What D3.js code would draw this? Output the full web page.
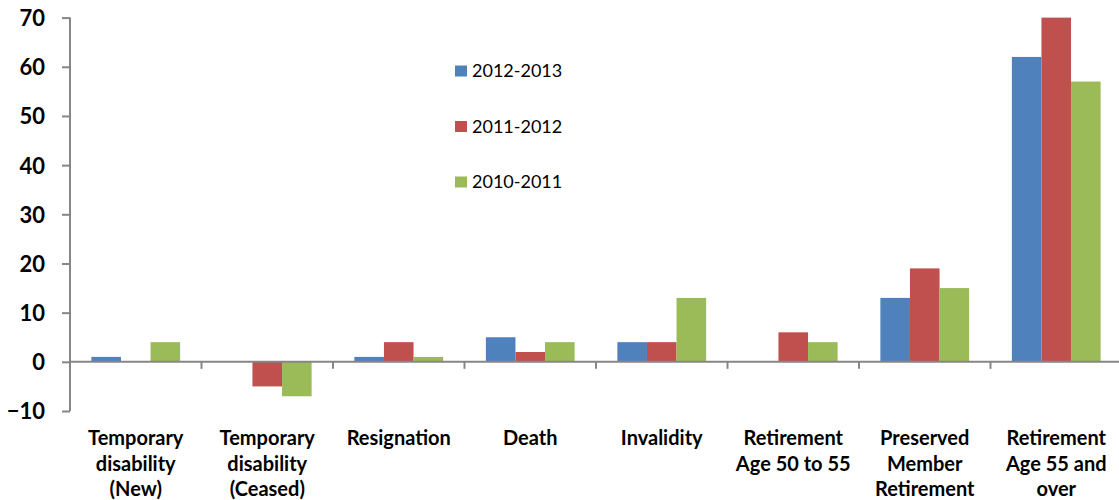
<!DOCTYPE html>
<html><head><meta charset="utf-8">
<script src="https://cdn.jsdelivr.net/npm/d3@7"></script>
<style>body{margin:0;background:#fff;}svg{display:block;}</style>
</head><body>
<svg id="c" width="1119" height="500"></svg>
<script>
const categories = [
  ["Temporary","disability","(New)"],
  ["Temporary","disability","(Ceased)"],
  ["Resignation"],
  ["Death"],
  ["Invalidity"],
  ["Retirement","Age 50 to 55"],
  ["Preserved","Member","Retirement"],
  ["Retirement","Age 55 and","over"]
];
const seriesNames = ["2012-2013","2011-2012","2010-2011"];
const s2012_2013 = [1, 0, 1, 5, 4, 0, 13, 62];
const s2011_2012 = [0, -5, 4, 2, 4, 6, 19, 70];
const s2010_2011 = [4, -7, 1, 4, 13, 4, 15, 57];
const seriesValues = [s2012_2013, s2011_2012, s2010_2011];
const colors = ["#4F81BD","#C0504D","#9BBB59"];
const yTicks = [-10,0,10,20,30,40,50,60,70];

const svg = d3.select("#c");
const catKeys = categories.map((c,i)=>i);
const x = d3.scaleBand().domain(catKeys).range([70,1122]).padding(0);
const y = d3.scaleLinear().domain([-10,70]).range([411,17.6]);
const bw = x.bandwidth();
const barW = bw*0.225;
const off = (bw-3*barW)/2;
const xs = d3.scaleBand().domain(seriesNames).range([off, off+3*barW]).padding(0);

const font = "Lato, 'Open Sans', sans-serif";
const axisColor = "#868686";

// bars
seriesNames.forEach((s,si)=>{
  svg.append("g").selectAll("rect").data(seriesValues[si]).join("rect")
    .attr("x",(d,i)=>x(i)+xs(s))
    .attr("width",xs.bandwidth())
    .attr("y",d=>y(Math.max(0,d)))
    .attr("height",d=>Math.abs(y(d)-y(0)))
    .attr("fill",colors[si]);
});

// y axis
const yAxis = d3.axisLeft(y).tickValues(yTicks).tickSize(8).tickPadding(17).tickFormat(d3.format("d"));
const gy = svg.append("g").attr("transform","translate(70,0)").call(yAxis);
gy.select(".domain").attr("stroke",axisColor).attr("stroke-width",2).attr("d","M0,"+y(-10)+"V"+y(70));
gy.selectAll(".tick line").attr("stroke",axisColor).attr("stroke-width",2);
gy.selectAll(".tick text").attr("fill","#000").style("font-family",font).style("font-weight","bold").style("font-size","22px")
  .attr("dy","0.36em");

// x axis line at 0 with ticks at boundaries
const gx = svg.append("g");
gx.append("line").attr("x1",70).attr("x2",1122).attr("y1",y(0)).attr("y2",y(0)).attr("stroke",axisColor).attr("stroke-width",2);
gx.selectAll(".bt").data(catKeys.slice(1)).join("line")
  .attr("x1",d=>x(d)).attr("x2",d=>x(d)).attr("y1",y(0)).attr("y2",y(0)+7)
  .attr("stroke",axisColor).attr("stroke-width",2);

// category labels
const lab = svg.append("g").selectAll("text").data(categories).join("text")
  .attr("text-anchor","middle")
  .style("font-family",font).style("font-weight","bold").style("font-size","20px").attr("fill","#000");
lab.each(function(lines,i){
  const t = d3.select(this);
  lines.forEach((l,j)=>{
    t.append("tspan").attr("x",x(i)+bw/2).attr("y",445+j*25.5).text(l);
  });
});

// legend
const lg = svg.append("g");
seriesNames.forEach((s,i)=>{
  const yb = 77+i*55.5;
  lg.append("rect").attr("x",455).attr("y",yb-11.5).attr("width",12).attr("height",11).attr("fill",colors[i]);
  lg.append("text").attr("x",472).attr("y",yb).text(s)
    .style("font-family",font).style("font-size","18px").attr("fill","#000");
});
</script>
</body></html>
